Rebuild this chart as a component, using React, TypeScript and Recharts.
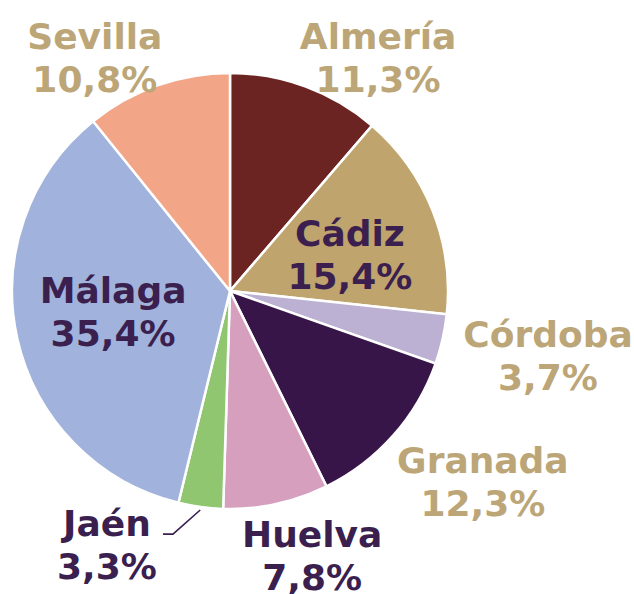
import { PieChart, Pie, Cell } from "recharts";

// Distribución por provincias (%), en el orden del gráfico, desde las 12 en sentido horario
const provinces = [
  "Almería",
  "Cádiz",
  "Córdoba",
  "Granada",
  "Huelva",
  "Jaén",
  "Málaga",
  "Sevilla",
];
const shares = [11.3, 15.4, 3.7, 12.3, 7.8, 3.3, 35.4, 10.8];

const sliceColors = [
  "#6b2421",
  "#bfa46d",
  "#bcb1d3",
  "#381548",
  "#d69fbe",
  "#8fc66f",
  "#a1b3dc",
  "#f2a587",
];

const TAN = "#bca677";
const DARK = "#3a1f4f";

// where each label sits: radius factor and angle nudge (degrees), plus text colour
const labelLayout = [
  { r: 1.266, shift: -12.1, color: TAN },
  { r: 0.573, shift: -5.3, color: DARK },
  { r: 1.489, shift: 1.2, color: TAN },
  { r: 1.454, shift: 4.5, color: TAN },
  { r: 1.273, shift: 5.0, color: DARK },
  { r: 1.295, shift: -18.1, color: DARK },
  { r: 0.545, shift: -2.4, color: DARK },
  { r: 1.235, shift: 10.7, color: TAN },
];

const data = provinces.map((name, i) => ({ name, value: shares[i] }));

const RAD = Math.PI / 180;
const fmt = (v: number) => v.toFixed(1).replace(".", ",") + "%";

const renderLabel = (props: any) => {
  const { cx, cy, midAngle, outerRadius, index } = props;
  const layout = labelLayout[index];
  const ang = (midAngle + layout.shift) * RAD;
  const x = cx + outerRadius * layout.r * Math.cos(ang);
  const y = cy - outerRadius * layout.r * Math.sin(ang);
  const textProps = {
    textAnchor: "middle" as const,
    dominantBaseline: "central" as const,
    fill: layout.color,
    fontSize: 36,
    fontWeight: 700,
    fontFamily: "'DejaVu Sans', Verdana, sans-serif",
  };

  let leader = null;
  if (provinces[index] === "Jaén") {
    // small leader line from the thin slice to its label
    const sx = cx + (outerRadius + 3) * Math.cos(midAngle * RAD);
    const sy = cy - (outerRadius + 3) * Math.sin(midAngle * RAD);
    const ex = x + 66;
    const ey = y - 11;
    leader = (
      <polyline
        points={`${sx},${sy} ${ex},${ey} ${ex - 10},${ey}`}
        fill="none"
        stroke={DARK}
        strokeWidth={1.6}
      />
    );
  }

  return (
    <g key={`label-${index}`}>
      {leader}
      <text x={x} y={y - 22} {...textProps}>
        {provinces[index]}
      </text>
      <text x={x} y={y + 21} {...textProps}>
        {fmt(shares[index])}
      </text>
    </g>
  );
};

export default function App() {
  return (
    <div
      style={{
        position: "absolute",
        left: 0,
        top: 0,
        width: 634,
        height: 594,
        background: "#ffffff",
      }}
    >
      <PieChart width={634} height={594} margin={{ top: 0, right: 0, bottom: 0, left: 0 }}>
        <Pie
          data={data}
          dataKey="value"
          nameKey="name"
          cx={230}
          cy={291}
          outerRadius={218}
          startAngle={90}
          endAngle={-270}
          stroke="#ffffff"
          strokeWidth={2.5}
          label={renderLabel}
          labelLine={false}
          isAnimationActive={false}
        >
          {data.map((entry, i) => (
            <Cell key={entry.name} fill={sliceColors[i]} />
          ))}
        </Pie>
      </PieChart>
    </div>
  );
}
